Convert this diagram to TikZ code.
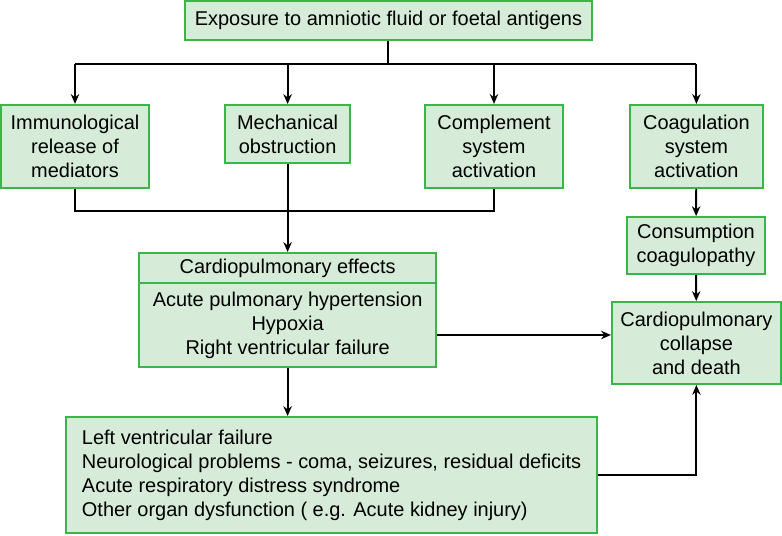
\documentclass[tikz,border=0pt]{standalone}
\usepackage{fontspec}
\setmainfont{Liberation Sans}
\usepackage{xcolor}
\definecolor{afeGreen}{HTML}{3AB54A}
\definecolor{afeFill}{HTML}{D6EBD8}
\usepackage{tikz}
\usetikzlibrary{arrows.meta}

\begin{document}
\begin{tikzpicture}[>={Stealth[length=7pt,width=6pt]},
  font=\fontsize{14.2}{17.1}\selectfont,
  box/.style={draw=afeGreen, fill=afeFill, line width=1.4pt, align=center, inner sep=0pt},
  link/.style={line width=1.4pt}]
  \useasboundingbox (0,0) rectangle (19.55,13.4);
  % exposure
  \node[box, minimum width=10.18cm, minimum height=0.975cm] (expo) at (9.71,12.89)
    {Exposure to amniotic fluid or foetal antigens};
  % four pathways
  \node[box, minimum width=3.7cm, minimum height=2.075cm] (immuno) at (1.875,9.74)
    {Immunological\\ release of\\ mediators};
  \node[box, minimum width=3.125cm, minimum height=1.45cm] (mech) at (7.19,10.05)
    {Mechanical\\ obstruction};
  \node[box, minimum width=3.45cm, minimum height=2.075cm] (compl) at (12.35,9.74)
    {Complement\\ system\\ activation};
  \node[box, minimum width=3.325cm, minimum height=2.075cm] (coag) at (17.41,9.74)
    {Coagulation\\ system\\ activation};
  % right column
  \node[box, minimum width=3.45cm, minimum height=1.425cm] (consump) at (17.4,7.26)
    {Consumption\\ coagulopathy};
  \node[box, minimum width=4.225cm, minimum height=2.05cm] (collapse) at (17.41,4.825)
    {Cardiopulmonary\\ collapse\\ and death};
  % cardiopulmonary effects
  \node[box, minimum width=7.425cm, minimum height=0.75cm] (cphead) at (7.19,6.7)
    {Cardiopulmonary effects};
  \node[box, minimum width=7.425cm, minimum height=2.1cm] (cpbody) at (7.19,5.275)
    {Acute pulmonary hypertension\\ Hypoxia\\ Right ventricular failure};
  % later effects
  \node[box, align=left, minimum width=13.275cm, minimum height=2.9cm] (later) at (8.29,1.525)
    {Left ventricular failure\\
     Neurological problems - coma, seizures, residual deficits\\
     Acute respiratory distress syndrome\\
     Other organ dysfunction ( e.g. Acute kidney injury)};
  % split and join
  \coordinate (split) at (9.71,11.8);
  \coordinate (join) at (7.19,8.125);
  \draw[link] (expo.south) -- (split);
  \draw[link] (split -| immuno) -- (split -| coag);
  \foreach \n in {immuno,mech,compl,coag}
    \draw[link,->] (split -| \n) -- (\n.north);
  \draw[link] (immuno.south) |- (join) -| (compl.south);
  \draw[link,->] (mech.south) -- (cphead.north);
  % right column arrows
  \draw[link,->] (coag) -- (consump);
  \draw[link,->] (consump) -- (collapse);
  \draw[link,->] ([yshift=-0.25cm]cpbody.east) -- ([yshift=-0.25cm]cpbody.east -| collapse.west);
  \draw[link,->] (cpbody.south) -- (cpbody.south |- later.north);
  \draw[link,->] (later.east) -| (collapse.south);
\end{tikzpicture}
\end{document}
